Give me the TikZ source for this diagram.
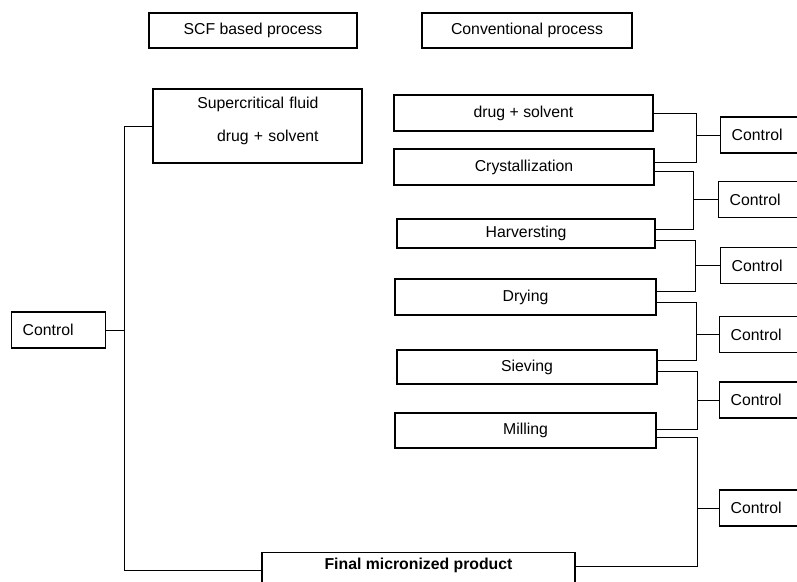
\documentclass[tikz,border=0pt]{standalone}
\usepackage{fontspec}
\setmainfont{Liberation Sans}
\tikzset{
  stage/.style={draw,line width=1.3pt,inner sep=0pt},
  ctrlbox/.style={draw,line width=1.3pt,anchor=west,minimum height=36pt,text width=72pt,align=left,inner xsep=11pt,inner ysep=0pt},
  link/.style={line width=1pt}
}
\begin{document}
\begin{tikzpicture}[x=1pt,y=-1pt,font=\fontsize{15.8}{19}\selectfont]
\useasboundingbox (0,0) rectangle (797,581);
\clip (0,0) rectangle (797,581);
% headings
\node[stage,minimum width=208pt,minimum height=35pt] (scf) at (253,30.5) {SCF based process};
\node[stage,minimum width=210pt,minimum height=35pt] (conv) at (527,30.5) {Conventional process};
% SCF side
\node[stage,minimum width=209pt,minimum height=74pt,text width=122pt,align=right] (sc) at (257.5,126) {Supercritical fluid\\[14pt]drug + solvent\\[-6pt]\mbox{}};
\node[ctrlbox] (ctrlL) at (11,330) {Control};
\node[stage,anchor=north,minimum width=313pt,inner ysep=5pt,text depth=24pt,font=\fontsize{15.8}{19}\selectfont\bfseries] (final) at (418.5,552) {Final micronized product};
% conventional side
\node[stage,minimum width=259pt,minimum height=36pt] (drug) at (523.5,113) {drug + solvent};
\node[stage,minimum width=260pt,minimum height=36pt] (cryst) at (524,167) {Crystallization};
\node[stage,minimum width=258pt,minimum height=29pt] (harv) at (526,233.5) {Harversting};
\node[stage,minimum width=261pt,minimum height=36pt] (dry) at (525.5,297) {Drying};
\node[stage,minimum width=260pt,minimum height=34pt] (siev) at (527,367) {Sieving};
\node[stage,minimum width=261pt,minimum height=35pt] (mill) at (525.5,430.5) {Milling};
\node[ctrlbox] (c1) at (720,135) {Control};
\node[ctrlbox] (c2) at (718,199.5) {Control};
\node[ctrlbox] (c3) at (720,265.5) {Control};
\node[ctrlbox] (c4) at (719,334.5) {Control};
\node[ctrlbox] (c5) at (719,400) {Control};
\node[ctrlbox] (c6) at (719,508) {Control};
% bracket lines
\coordinate (bl) at (124,0);
\coordinate (b1) at (696,0);
\coordinate (b2) at (693,0);
\coordinate (b3) at (695,0);
\coordinate (b4) at (696,0);
\coordinate (b5) at (697,0);
\coordinate (b6) at (697,0);
\draw[link] (sc.west) -- (sc.west -| bl) |- ([yshift=-18pt]final.north west);
\draw[link] (ctrlL.east) -- (ctrlL.east -| bl);
\draw[link] (drug.east) -- (drug.east -| b1) |- ([yshift=5pt]cryst.east);
\draw[link] (c1.west) -- (c1.west -| b1);
\draw[link] ([yshift=-4pt]cryst.east) -- ([yshift=-4pt]cryst.east -| b2) |- ([yshift=4.5pt]harv.east);
\draw[link] (c2.west) -- (c2.west -| b2);
\draw[link] ([yshift=-6.5pt]harv.east) -- ([yshift=-6.5pt]harv.east -| b3) |- ([yshift=6pt]dry.east);
\draw[link] (c3.west) -- (c3.west -| b3);
\draw[link] ([yshift=-5pt]dry.east) -- ([yshift=-5pt]dry.east -| b4) |- ([yshift=7pt]siev.east);
\draw[link] (c4.west) -- (c4.west -| b4);
\draw[link] ([yshift=-4pt]siev.east) -- ([yshift=-4pt]siev.east -| b5) |- ([yshift=1.5pt]mill.east);
\draw[link] (c5.west) -- (c5.west -| b5);
\draw[link] ([yshift=-6.5pt]mill.east) -- ([yshift=-6.5pt]mill.east -| b6) |- ([yshift=-14pt]final.north east);
\draw[link] (c6.west) -- (c6.west -| b6);
\end{tikzpicture}
\end{document}
